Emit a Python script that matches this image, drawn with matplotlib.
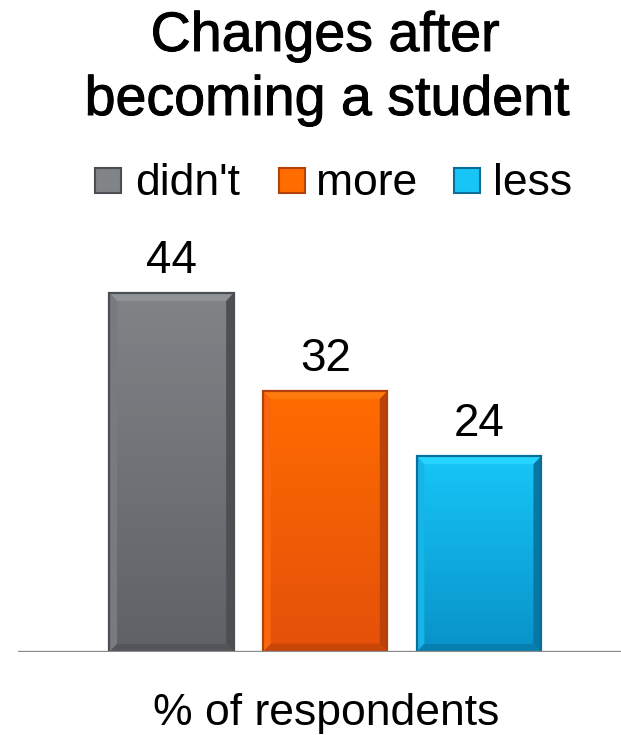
import numpy as np
import matplotlib
matplotlib.use("Agg")
import matplotlib.pyplot as plt
import matplotlib.patheffects as pe
from matplotlib.patches import Polygon, Rectangle

plt.rcParams['font.family'] = ['Liberation Sans', 'DejaVu Sans']

categories = ["didn't", "more", "less"]
values = [44, 32, 24]
# top colour, bottom colour, edge colour for each bar
tops = ["#818487", "#ff6c00", "#17c6f7"]
bottoms = ["#5e6165", "#e4500a", "#0892c9"]
edges = ["#4b4e52", "#b5410a", "#0a6e99"]

fig = plt.figure(figsize=(6.21, 7.35), dpi=100)
ax = fig.add_axes([18 / 621, 1 - 652 / 735, 1 - 18 / 621, (652 - 230) / 735])
ax.set_xlim(-1.0, 2.925)
ax.set_ylim(0, 51.7)
ax.axis("off")

w = 0.81
dx, dy = 0.05, 1.0
x = np.arange(len(values))
for i, v in enumerate(values):
    x0, x1 = x[i] - w / 2, x[i] + w / 2
    top = np.array(matplotlib.colors.to_rgb(tops[i]))
    bot = np.array(matplotlib.colors.to_rgb(bottoms[i]))
    t = np.linspace(1, 0, 200)[:, None, None]
    grad = bot + (top - bot) * t
    grad = np.repeat(grad, 2, axis=1)
    ax.imshow(grad, extent=[x0, x1, 0, v], aspect="auto", zorder=2,
              interpolation="bilinear")
    # bevel: lighter top/left, darker right/bottom
    lighter = np.clip(top + 0.06, 0, 1)
    darker = bot * 0.82
    ax.add_patch(Polygon([[x0, v], [x1, v], [x1 - dx, v - dy], [x0 + dx, v - dy]],
                         closed=True, fc=lighter, ec="none", zorder=3))
    ax.add_patch(Polygon([[x0, 0], [x0, v], [x0 + dx, v - dy], [x0 + dx, dy]],
                         closed=True, fc=np.clip((top + bot) / 2 + 0.03, 0, 1),
                         ec="none", zorder=3))
    ax.add_patch(Polygon([[x1, 0], [x1, v], [x1 - dx, v - dy], [x1 - dx, dy]],
                         closed=True, fc=darker, ec="none", zorder=3))
    ax.add_patch(Polygon([[x0, 0], [x1, 0], [x1 - dx, dy], [x0 + dx, dy]],
                         closed=True, fc=bot * 0.88, ec="none", zorder=3))
    ax.add_patch(Rectangle((x0, 0), w, v, fc="none", ec=edges[i], lw=1.6, zorder=4))
    ax.text(x[i], v + 2.45, str(v), ha="center", va="baseline", fontsize=33, zorder=5)

ax.axhline(0, color="#8a8a8a", lw=2.4, zorder=6)

# title a bit heavier than the body text
thick = [pe.withStroke(linewidth=0.7, foreground="black")]
fig.text(325 / 621, 1 - 51 / 735, "Changes after", ha="center", va="baseline",
         fontsize=40, path_effects=thick)
fig.text(327 / 621, 1 - 115 / 735, "becoming a student", ha="center", va="baseline",
         fontsize=40, path_effects=thick)

# legend
leg_y = 1 - 181 / 735
entries = [(95, 135), (279, 316), (454, 493)]
for (sx, tx), lab, c, b, e in zip(entries, categories, tops, bottoms, edges):
    fig.patches.append(Rectangle((sx / 621, leg_y - 12 / 735), 26 / 621, 25 / 735,
                                 transform=fig.transFigure, fc=c, ec=e, lw=1.5))
    fig.text(tx / 621, 1 - 195 / 735, lab, ha="left", va="baseline", fontsize=32)

fig.text(326 / 621, 1 - 725 / 735, "% of respondents", ha="center", va="baseline",
         fontsize=32)

fig.savefig("out.png", dpi=100)
